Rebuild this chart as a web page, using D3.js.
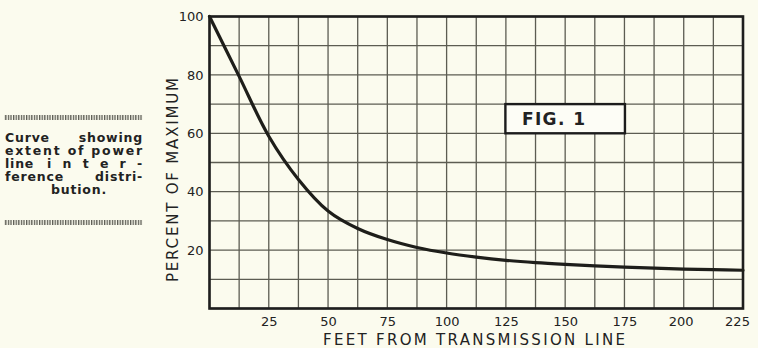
<!DOCTYPE html>
<html>
<head>
<meta charset="utf-8">
<script src="https://cdn.jsdelivr.net/npm/d3@7"></script>
<style>
  html, body { margin: 0; padding: 0; background: #fbfbee; }
  svg { display: block; }
  text { font-family: "DejaVu Sans", sans-serif; fill: #222; }
</style>
</head>
<body>
<svg id="chart" width="758" height="348"></svg>
<script>
// Interference level (percent of maximum) against distance from the line (feet)
const distanceFt = [0, 12.5, 25, 37.5, 50, 62.5, 75, 87.5, 100, 112.5, 125, 137.5, 150, 162.5, 175, 187.5, 200, 212.5, 225];
const percentMax = [100, 79.5, 59, 44.2, 33.4, 27.4, 23.6, 20.9, 19.0, 17.6, 16.5, 15.7, 15.1, 14.6, 14.2, 13.8, 13.5, 13.3, 13.1];

const xTickLabels = [25, 50, 75, 100, 125, 150, 175, 200, 225];
const yTickLabels = [20, 40, 60, 80, 100];
const xGrid = d3.range(0, 225.01, 12.5);
const yGrid = d3.range(0, 100.01, 10);

const captionLines = [
  ["Curve", "showing"],
  ["extent", "of", "power"],
  ["line", "inter-"],
  ["ference", "distri-"],
  ["bution."]
];

const svg = d3.select("#chart");
const plotLeft = 209.5, plotRight = 743, plotTop = 16.5, plotBottom = 308.5;

const x = d3.scaleLinear().domain([0, 225]).range([plotLeft, plotRight]);
const y = d3.scaleLinear().domain([0, 100]).range([plotBottom, plotTop]);

// paper background
svg.append("rect").attr("width", 758).attr("height", 348).attr("fill", "#fbfbee");

// grid
const grid = svg.append("g").attr("stroke", "#5c5c52").attr("stroke-width", 1.3);
grid.selectAll("line.v").data(xGrid).join("line")
  .attr("class", "v")
  .attr("x1", d => x(d)).attr("x2", d => x(d))
  .attr("y1", y(0)).attr("y2", y(100));
grid.selectAll("line.h").data(yGrid).join("line")
  .attr("class", "h")
  .attr("x1", x(0)).attr("x2", x(225))
  .attr("y1", d => y(d)).attr("y2", d => y(d));

// "FIG. 1" panel, sitting in the grid cells 125–175 ft, 60–70 %
svg.append("rect")
  .attr("x", x(125) - 0.5).attr("y", y(70))
  .attr("width", x(175) - x(125) + 1).attr("height", y(60) - y(70))
  .attr("fill", "#fdfdf6").attr("stroke", "#1c1c1c").attr("stroke-width", 2.4);
svg.append("text")
  .attr("x", x(125) + 16).attr("y", y(65) + 6.5)
  .attr("font-size", 17).attr("font-weight", "bold")
  .attr("letter-spacing", 1.4)
  .text("FIG. 1");

// plot frame
svg.append("rect")
  .attr("x", plotLeft).attr("y", plotTop)
  .attr("width", plotRight - plotLeft).attr("height", plotBottom - plotTop)
  .attr("fill", "none").attr("stroke", "#1e1e1e").attr("stroke-width", 2.6);

// curve
const line = d3.line()
  .x((d, i) => x(distanceFt[i]))
  .y(d => y(d))
  .curve(d3.curveCatmullRom.alpha(0.5));
svg.append("path")
  .datum(percentMax)
  .attr("d", line)
  .attr("fill", "none")
  .attr("stroke", "#1e1e1a")
  .attr("stroke-width", 3.2)
  .attr("stroke-linecap", "round");

// axes (labels only)
const yAxis = svg.append("g")
  .attr("transform", `translate(${plotLeft},0)`)
  .call(d3.axisLeft(y).tickValues(yTickLabels).tickSize(0).tickPadding(6));
yAxis.select(".domain").remove();
yAxis.selectAll("text").attr("font-size", 13).attr("font-family", "DejaVu Sans").attr("fill", "#222");

const xAxis = svg.append("g")
  .attr("transform", `translate(0,${plotBottom})`)
  .call(d3.axisBottom(x).tickValues(xTickLabels).tickSize(0).tickPadding(8));
xAxis.select(".domain").remove();
xAxis.selectAll("text").attr("font-size", 13).attr("font-family", "DejaVu Sans").attr("fill", "#222")
  .attr("dx", d => d === 225 ? -6 : (d === 200 ? -3 : 0));

// axis titles
svg.append("text")
  .attr("x", 323).attr("y", 345)
  .attr("font-size", 15)
  .attr("textLength", 302).attr("lengthAdjust", "spacing")
  .text("FEET FROM TRANSMISSION LINE");
svg.append("text")
  .attr("transform", "translate(178,282) rotate(-90)")
  .attr("font-size", 15)
  .attr("textLength", 204).attr("lengthAdjust", "spacing")
  .text("PERCENT OF MAXIMUM");

// side caption with rule bars above and below
const defs = svg.append("defs");
const pat = defs.append("pattern")
  .attr("id", "stripes").attr("patternUnits", "userSpaceOnUse")
  .attr("width", 2.6).attr("height", 6);
pat.append("rect").attr("width", 1.3).attr("height", 6).attr("fill", "#5a5a52");

svg.append("rect").attr("x", 4).attr("y", 115).attr("width", 139).attr("height", 5).attr("fill", "url(#stripes)");
svg.append("rect").attr("x", 4).attr("y", 220).attr("width", 139).attr("height", 5).attr("fill", "url(#stripes)");

const capLeft = 5, capRight = 143;
const baselines = [142, 155, 168, 181, 194];
const cap = svg.append("g").attr("font-size", 12.5).attr("font-weight", "bold").attr("letter-spacing", 0.8);
captionLines.forEach((words, i) => {
  const yb = baselines[i];
  if (words.length === 1) {
    cap.append("text").attr("x", 79).attr("y", yb).attr("text-anchor", "middle").text(words[0]);
  } else if (words[0] === "line") {
    cap.append("text").attr("x", capLeft).attr("y", yb).text(words[0]);
    cap.append("text").attr("x", 47).attr("y", yb)
      .attr("textLength", capRight - 47).attr("lengthAdjust", "spacing").text(words[1]);
  } else if (words.length === 2) {
    cap.append("text").attr("x", capLeft).attr("y", yb).text(words[0]);
    cap.append("text").attr("x", capRight).attr("y", yb).attr("text-anchor", "end").text(words[1]);
  } else {
    cap.append("text").attr("x", capLeft).attr("y", yb)
      .attr("textLength", capRight - capLeft).attr("lengthAdjust", "spacing")
      .text(words.join(" "));
  }
});
</script>
</body>
</html>
